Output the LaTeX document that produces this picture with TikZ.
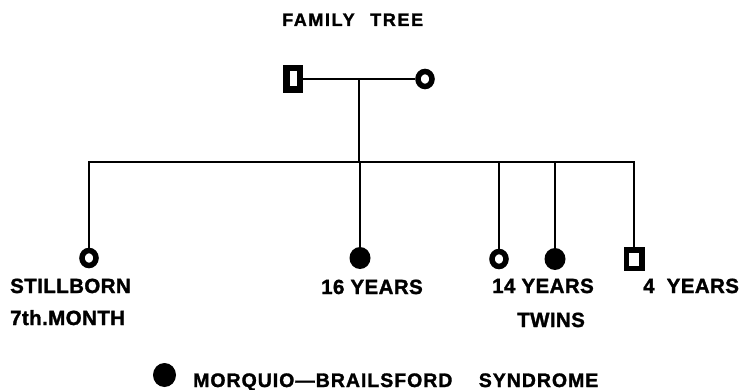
\documentclass[tikz,border=0pt]{standalone}
\usepackage{fontspec}
\setmainfont{Liberation Sans}
\newfontfamily\labfont{Liberation Sans Bold}[LetterSpace=2,FakeBold=1.5]
\newfontfamily\titlefont{Liberation Sans Bold}[LetterSpace=9,FakeBold=1.5]
\newfontfamily\legfont{Liberation Sans Bold}[LetterSpace=5,FakeBold=1.5]
\usetikzlibrary{shapes.geometric}
\begin{document}
\begin{tikzpicture}[x=1pt,y=-1pt,
  link/.style={line width=2.4pt},
  female/.style={ellipse,draw,line width=5.5pt,inner sep=0pt,minimum width=14pt,minimum height=15pt},
  affected/.style={ellipse,fill,inner sep=0pt,minimum width=21pt,minimum height=22pt},
  male/.style={rectangle,draw,line width=6pt,inner sep=0pt},
  lbl/.style={anchor=base west,inner sep=0pt,font=\labfont\fontsize{20.5}{24}\selectfont},
  ttl/.style={anchor=base west,inner sep=0pt,font=\titlefont\fontsize{18}{22}\selectfont},
  leg/.style={anchor=base west,inner sep=0pt,font=\legfont\fontsize{19.5}{23}\selectfont}]
\useasboundingbox[fill=white] (0,0) rectangle (743,390);

\node[ttl] (title) at (282,26) {FAMILY\hspace{9pt} TREE};

% parents
\node[male,line width=6.5pt,minimum width=13.5pt,minimum height=21.5pt] (father) at (293,79) {};
\node[female] (mother) at (425,79) {};
\draw[link] (father) -- (mother);
\coordinate (mid) at (359,79);
\coordinate (sib) at (359,162);
\draw[link] (mid) -- (sib);

% children
\node[female] (c1) at (89,258) {};
\node[affected] (c2) at (360,258) {};
\node[female] (c3) at (499,259) {};
\node[affected] (c4) at (555,259) {};
\node[male,line width=5.5pt,minimum width=15.5pt,minimum height=18.5pt] (c5) at (634,259) {};

\draw[link] (c1) -- (c1 |- sib) -- (c5 |- sib) -- (c5);
\draw[link] (c2 |- sib) -- (c2);
\draw[link] (c3 |- sib) -- (c3);
\draw[link] (c4 |- sib) -- (c4);

% labels
\node[lbl] (l1a) at (10,293) {STILLBORN};
\node[lbl] (l1b) at (10,325) {7th.MONTH};
\node[lbl] (l2) at (321,294) {16 YEARS};
\node[lbl] (l3) at (492,293) {14 YEARS};
\node[lbl] (l4) at (517,327) {TWINS};
\node[lbl] (l5) at (643,293) {4\hspace{6pt} YEARS};

% legend
\node[affected,minimum width=23pt,minimum height=24pt] (legdot) at (164.5,375) {};
\node[leg] (legtext) at (193,387) {MORQUIO—BRAILSFORD\hspace{20pt} SYNDROME};
\end{tikzpicture}
\end{document}
